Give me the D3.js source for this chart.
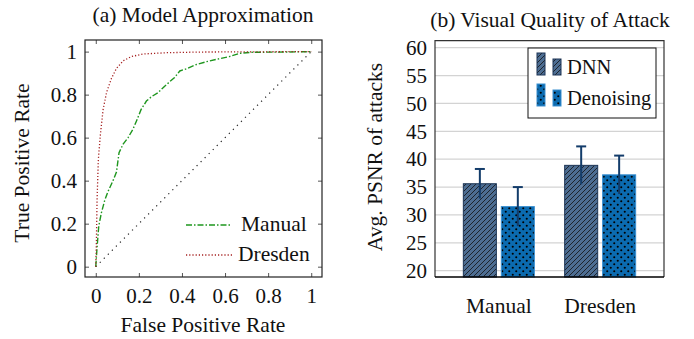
<!DOCTYPE html>
<html lang="en">
<head>
<meta charset="utf-8">
<title>ROC and PSNR</title>
<script src="https://d3js.org/d3.v7.min.js"></script>
<style>
  body { margin: 0; background: #fff; }
  svg text { font-family: "Liberation Serif", "Times New Roman", Times, serif; fill: #111; }
</style>
</head>
<body>
<div id="chart"></div>
<script>
// (a) ROC curves
var fprManual = [0, 0.006, 0.014, 0.026, 0.042, 0.057, 0.08, 0.096, 0.108, 0.127, 0.15, 0.173, 0.19, 0.21, 0.235, 0.258, 0.29, 0.31, 0.343, 0.366, 0.39, 0.42, 0.467, 0.513, 0.56, 0.62, 0.668, 0.73, 0.87, 1];
var tprManual = [0, 0.09, 0.19, 0.25, 0.31, 0.35, 0.40, 0.44, 0.53, 0.57, 0.60, 0.64, 0.68, 0.73, 0.77, 0.79, 0.81, 0.83, 0.86, 0.88, 0.91, 0.92, 0.94, 0.953, 0.964, 0.977, 0.992, 0.997, 0.998, 1];
var fprDresden = [0, 0.003, 0.006, 0.012, 0.022, 0.034, 0.05, 0.073, 0.096, 0.127, 0.165, 0.22, 0.33, 0.48, 1];
var tprDresden = [0, 0.12, 0.31, 0.50, 0.62, 0.73, 0.81, 0.876, 0.922, 0.957, 0.977, 0.989, 0.995, 0.998, 1];
var rocTicks = [0, 0.2, 0.4, 0.6, 0.8, 1];

// (b) PSNR bars
var categories = ["Manual", "Dresden"];
var seriesNames = ["DNN", "Denoising"];
var dnnMean = [35.6, 38.9];
var dnnErr = [2.65, 3.4];
var denoisingMean = [31.5, 37.2];
var denoisingErr = [3.5, 3.45];
var psnrTicks = [20, 25, 30, 35, 40, 45, 50, 55, 60];

var FONT = "'Liberation Serif', 'Times New Roman', Times, serif";

var svg = d3.select("#chart").append("svg")
    .attr("width", 694).attr("height", 339)
    .attr("font-family", FONT);

var defs = svg.append("defs");
var hatch = defs.append("pattern").attr("id", "hatch")
    .attr("patternUnits", "userSpaceOnUse").attr("width", 5).attr("height", 5);
hatch.append("rect").attr("width", 5).attr("height", 5).attr("fill", "#4d6d92");
hatch.append("path").attr("d", "M-1,6 L6,-1 M-1,1 L1,-1 M4,6 L6,4")
    .attr("stroke", "#111").attr("stroke-width", 0.8);
var dots = defs.append("pattern").attr("id", "dots")
    .attr("patternUnits", "userSpaceOnUse").attr("width", 7).attr("height", 7);
dots.append("rect").attr("width", 7).attr("height", 7).attr("fill", "#0b6bb0");
dots.append("circle").attr("cx", 1.75).attr("cy", 1.75).attr("r", 1.05).attr("fill", "#000");
dots.append("circle").attr("cx", 5.25).attr("cy", 5.25).attr("r", 1.05).attr("fill", "#000");

// ---------- left panel ----------
var L = { left: 85, right: 322, top: 40, bottom: 277 };
var x = d3.scaleLinear().domain([-0.05, 1.05]).range([L.left, L.right]);
var y = d3.scaleLinear().domain([-0.048, 1.054]).range([L.bottom, L.top]);

var left = svg.append("g");
var fmt = function(d) { return d === 0 || d === 1 ? d : d.toFixed(1); };

left.append("g").attr("transform", "translate(0," + L.bottom + ")")
    .call(d3.axisBottom(x).tickValues(rocTicks).tickSize(-4).tickPadding(11).tickFormat(fmt))
    .call(function(g) { g.select(".domain").remove(); });
left.append("g").attr("transform", "translate(0," + L.top + ")")
    .call(d3.axisTop(x).tickValues(rocTicks).tickSize(-4).tickFormat(""))
    .call(function(g) { g.select(".domain").remove(); });
left.append("g").attr("transform", "translate(" + L.left + ",0)")
    .call(d3.axisLeft(y).tickValues(rocTicks).tickSize(-4).tickPadding(8).tickFormat(fmt))
    .call(function(g) { g.select(".domain").remove(); });
left.append("g").attr("transform", "translate(" + L.right + ",0)")
    .call(d3.axisRight(y).tickValues(rocTicks).tickSize(-4).tickFormat(""))
    .call(function(g) { g.select(".domain").remove(); });

left.selectAll("g").attr("font-family", FONT);
left.selectAll(".tick line").attr("stroke", "#555");
left.selectAll(".tick text").style("font-size", "21px").attr("fill", "#111");

var line = d3.line().x(function(d) { return x(d[0]); }).y(function(d) { return y(d[1]); });

left.append("path").datum([[0, 0], [1, 1]]).attr("d", line)
    .attr("fill", "none").attr("stroke", "#222").attr("stroke-width", 1.2)
    .attr("stroke-dasharray", "1.2,4.5");
left.append("path").datum(d3.zip(fprManual, tprManual)).attr("d", line)
    .attr("fill", "none").attr("stroke", "#1e961e").attr("stroke-width", 1.4)
    .attr("stroke-dasharray", "6,2,1.5,2");
left.append("path").datum(d3.zip(fprDresden, tprDresden)).attr("d", line)
    .attr("fill", "none").attr("stroke", "#a52020").attr("stroke-width", 1.3)
    .attr("stroke-dasharray", "1.2,2");

left.append("rect").attr("x", L.left).attr("y", L.top)
    .attr("width", L.right - L.left).attr("height", L.bottom - L.top)
    .attr("fill", "none").attr("stroke", "#222").attr("stroke-width", 1.2);

// legend
left.append("line").attr("x1", 186).attr("x2", 232).attr("y1", 225).attr("y2", 225)
    .attr("stroke", "#1e961e").attr("stroke-width", 1.4).attr("stroke-dasharray", "6,2,1.5,2");
left.append("text").attr("x", 241).attr("y", 231).style("font-size", "21.5px").text("Manual");
left.append("line").attr("x1", 186).attr("x2", 232).attr("y1", 255).attr("y2", 255)
    .attr("stroke", "#a52020").attr("stroke-width", 1.3).attr("stroke-dasharray", "1.2,2");
left.append("text").attr("x", 238).attr("y", 261).style("font-size", "21.5px").text("Dresden");

left.append("text").attr("x", 203).attr("y", 22).attr("text-anchor", "middle")
    .style("font-size", "21.5px").text("(a) Model Approximation");
left.append("text").attr("x", 203).attr("y", 332).attr("text-anchor", "middle")
    .style("font-size", "21.5px").text("False Positive Rate");
left.append("text").attr("transform", "translate(29,163) rotate(-90)")
    .attr("text-anchor", "middle").style("font-size", "21.5px").text("True Positive Rate");

// ---------- right panel ----------
var R = { left: 435, right: 664, top: 40.7, bottom: 277 };
var yb = d3.scaleLinear().domain([18.87, 61.26]).range([R.bottom, R.top]);
var xc = d3.scalePoint().domain(categories).range([R.left, R.right]).padding(0.63);
var xs = d3.scaleBand().domain(seriesNames).range([-35.5, 35.5]).paddingInner(0.13);

var right = svg.append("g");

right.append("g").selectAll("line").data(psnrTicks).enter().append("line")
    .attr("x1", R.left).attr("x2", R.right)
    .attr("y1", function(d) { return yb(d); }).attr("y2", function(d) { return yb(d); })
    .attr("stroke", "#d3d3d3").attr("stroke-width", 1.2);

right.append("g").attr("transform", "translate(" + R.left + ",0)")
    .call(d3.axisLeft(yb).tickValues(psnrTicks).tickSize(0).tickPadding(8))
    .attr("font-family", FONT)
    .call(function(g) { g.select(".domain").remove(); })
    .selectAll("text").style("font-size", "21px").attr("fill", "#111");

var barData = [];
categories.forEach(function(c, i) {
    barData.push({ cat: c, s: "DNN", v: dnnMean[i], e: dnnErr[i] });
    barData.push({ cat: c, s: "Denoising", v: denoisingMean[i], e: denoisingErr[i] });
});

right.selectAll(".bar").data(barData).enter().append("rect")
    .attr("class", "bar")
    .attr("x", function(d) { return xc(d.cat) + xs(d.s); })
    .attr("y", function(d) { return yb(d.v); })
    .attr("width", xs.bandwidth())
    .attr("height", function(d) { return R.bottom - yb(d.v); })
    .attr("fill", function(d) { return d.s === "DNN" ? "url(#hatch)" : "url(#dots)"; })
    .attr("stroke", function(d) { return d.s === "DNN" ? "#1c3556" : "#3a8fd0"; })
    .attr("stroke-width", 1);

var eb = right.selectAll(".err").data(barData).enter().append("g")
    .attr("transform", function(d) { return "translate(" + (xc(d.cat) + xs(d.s) + xs.bandwidth() / 2) + ",0)"; });
eb.append("line").attr("y1", function(d) { return yb(d.v - d.e); })
    .attr("y2", function(d) { return yb(d.v + d.e); })
    .attr("stroke", "#133c6a").attr("stroke-width", 2);
eb.append("line").attr("x1", -5).attr("x2", 5)
    .attr("y1", function(d) { return yb(d.v + d.e); }).attr("y2", function(d) { return yb(d.v + d.e); })
    .attr("stroke", "#133c6a").attr("stroke-width", 2);

right.append("path")
    .attr("d", "M" + R.left + "," + R.bottom + "V" + R.top + "H" + R.right + "V" + R.bottom)
    .attr("fill", "none").attr("stroke", "#333").attr("stroke-width", 1.2);
right.append("line").attr("x1", R.left).attr("x2", R.right).attr("y1", R.bottom).attr("y2", R.bottom)
    .attr("stroke", "#000").attr("stroke-width", 1.6);

right.selectAll(".cat").data(categories).enter().append("text")
    .attr("x", function(d) { return xc(d); }).attr("y", 313).attr("text-anchor", "middle")
    .style("font-size", "21.5px").text(function(d) { return d; });

// legend box
var lg = right.append("g");
lg.append("rect").attr("x", 528).attr("y", 48).attr("width", 128).attr("height", 70)
    .attr("fill", "#fff").attr("stroke", "#111").attr("stroke-width", 1);
seriesNames.forEach(function(s, i) {
    var yBase = i === 0 ? 75 : 106;
    var fill = s === "DNN" ? "url(#hatch)" : "url(#dots)";
    var stroke = s === "DNN" ? "#1c3556" : "#3a8fd0";
    lg.append("rect").attr("x", 537).attr("y", yBase - 22).attr("width", 8).attr("height", 22)
        .attr("fill", fill).attr("stroke", stroke);
    lg.append("rect").attr("x", 553).attr("y", yBase - 16).attr("width", 8).attr("height", 16)
        .attr("fill", fill).attr("stroke", stroke);
    lg.append("text").attr("x", 567).attr("y", yBase - 1).style("font-size", "20.5px").text(s);
});

right.append("text").attr("x", 550).attr("y", 27).attr("text-anchor", "middle")
    .style("font-size", "21.5px").text("(b) Visual Quality of Attack");
right.append("text").attr("transform", "translate(382,157) rotate(-90)")
    .attr("text-anchor", "middle").style("font-size", "21.5px").text("Avg. PSNR of attacks");
</script>
</body>
</html>
